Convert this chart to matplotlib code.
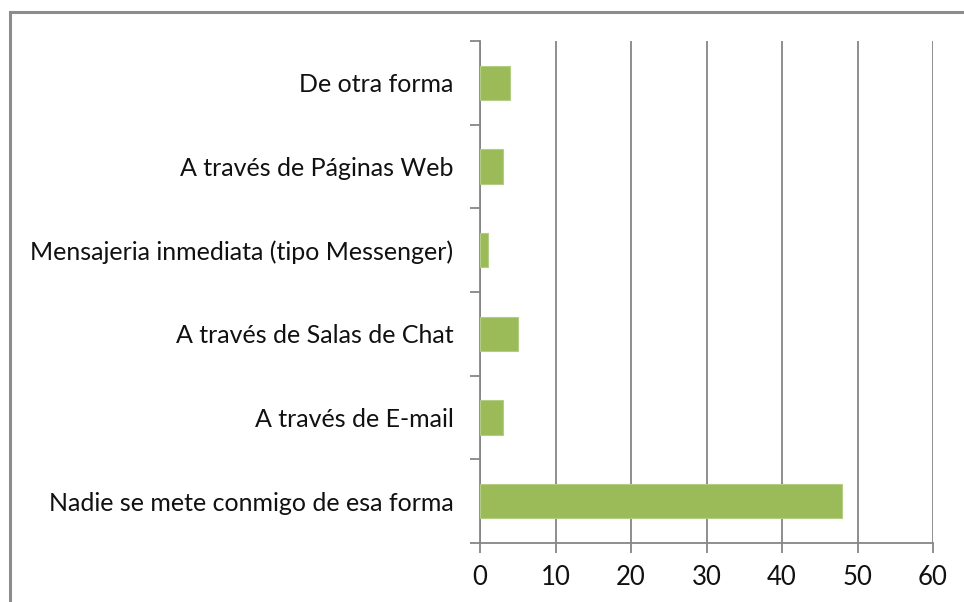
import matplotlib
matplotlib.use("Agg")
import matplotlib.pyplot as plt
from matplotlib.patches import Rectangle

# categories listed bottom -> top, as drawn
categories = [
    "Nadie se mete conmigo de esa forma",
    "A través de E-mail",
    "A través de Salas de Chat",
    "Mensajeria inmediata (tipo Messenger)",
    "A través de Páginas Web",
    "De otra forma",
]
values = [48, 3, 5, 1, 3, 4]
x_ticks = [0, 10, 20, 30, 40, 50, 60]

BAR = "#9bbb59"
GRID = "#868686"

plt.rcParams["font.family"] = ["Lato", "DejaVu Sans"]

fig = plt.figure(figsize=(9.64, 6.02), dpi=100)
ax = fig.add_axes([480 / 964, 1 - 543 / 602, (933 - 480) / 964, (543 - 41) / 602])

pos = list(range(len(categories)))
ax.barh(pos, values, height=0.41, color=BAR, edgecolor="#b5cc85", linewidth=0.8, zorder=3)

ax.set_xlim(0, 60)
ax.set_ylim(-0.5, len(categories) - 0.5)
ax.set_xticks(x_ticks)
ax.grid(axis="x", color=GRID, linewidth=1.3, zorder=0)

# category tick marks sit between bars
ax.set_yticks([p - 0.5 for p in pos] + [len(categories) - 0.5])
ax.set_yticklabels([])
ax.set_yticks(pos, minor=True)
ax.set_yticklabels(categories, minor=True)
ax.tick_params(axis="y", which="minor", length=0, pad=19, labelsize=18, labelcolor="#111111")
ax.tick_params(axis="y", which="major", length=7, width=1.3, color=GRID)
ax.tick_params(axis="x", length=7, width=1.3, color=GRID, pad=9, labelsize=18.5, labelcolor="#111111")

for s in ["top", "right"]:
    ax.spines[s].set_visible(False)
for s in ["left", "bottom"]:
    ax.spines[s].set_color(GRID)
    ax.spines[s].set_linewidth(1.3)

# outer chart-area border (cut off on the right and bottom)
fig.patches.append(Rectangle((10 / 964, -0.05), 1.1, 1 - 12 / 602 + 0.05,
                             transform=fig.transFigure, fill=False,
                             edgecolor="#8c8c8c", linewidth=2.2))

fig.savefig("out.png", dpi=100)
